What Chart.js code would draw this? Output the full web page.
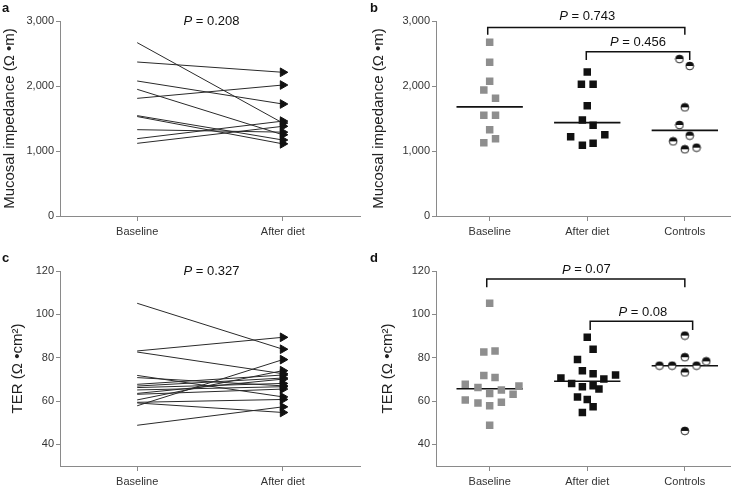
<!DOCTYPE html>
<html>
<head>
<meta charset="utf-8">
<script src="https://cdn.jsdelivr.net/npm/chart.js@4.4.1/dist/chart.umd.min.js"></script>
<style>
  body { margin: 0; background: #fff; width: 736px; height: 488px; position: relative; overflow: hidden;
         font-family: "Liberation Sans", Arial, sans-serif; }
  .panel { position: absolute; width: 368px; height: 244px; }
  .lab { position: absolute; font-weight: bold; font-size: 13px; line-height: 13px; color: #111; }
</style>
</head>
<body>
<div class="panel" style="left:0;top:0"><canvas id="chartA" width="368" height="244"></canvas></div>
<div class="panel" style="left:368px;top:0"><canvas id="chartB" width="368" height="244"></canvas></div>
<div class="panel" style="left:0;top:244px"><canvas id="chartC" width="368" height="244"></canvas></div>
<div class="panel" style="left:368px;top:244px"><canvas id="chartD" width="368" height="244"></canvas></div>
<div class="lab" style="left:2px;top:1px">a</div>
<div class="lab" style="left:370px;top:1px">b</div>
<div class="lab" style="left:2px;top:251px">c</div>
<div class="lab" style="left:370px;top:251px">d</div>

<script>
// categories and ticks
const pairedGroups = ['Baseline', 'After diet'];
const allGroups = ['Baseline', 'After diet', 'Controls'];
const impedanceTicks = [0, 1000, 2000, 3000];
const terTicks = [40, 60, 80, 100, 120];

// a: mucosal impedance, each patient before -> after diet
const impBefore = [2667, 2369, 2077, 1949, 1810, 1544, 1530, 1328, 1190, 1118];
const impAfterPaired = [1430, 2211, 1723, 1250, 2015, 1169, 1110, 1290, 1460, 1380];

// b: mucosal impedance per group
const impBaseline = [2672, 2364, 2072, 1938, 1810, 1549, 1549, 1328, 1190, 1128];
const impAfter = [2215, 2026, 2026, 1697, 1477, 1395, 1251, 1221, 1087, 1118];
const impControls = [2415, 2308, 1672, 1400, 1236, 1149, 1026, 1051];
// horizontal spread of the dots (category units)
const impBaselineSpread = [0, 0, 0, -0.06, 0.06, -0.06, 0.06, 0, 0.06, -0.06];
const impAfterSpread = [0, -0.06, 0.06, 0, -0.05, 0.06, 0.18, -0.17, -0.05, 0.06];
const impControlsSpread = [-0.055, 0.05, 0, -0.055, 0.05, -0.12, 0, 0.12];

// c: TER, each patient before -> after diet
const terBefore = [105.1, 83.1, 82.6, 71.8, 70.8, 67.7, 66.9, 66.2, 65.1, 63.5, 63.1, 60.5, 59.4, 59.1, 57.8, 48.8];
const terAfterPaired = [83.9, 89.4, 72.6, 61.9, 67, 72, 70.6, 68.1, 66.6, 70.1, 65.5, 74, 60.7, 54.7, 79.1, 57.3];

// d: TER per group
const terBaseline = [105.1, 82.6, 83.1, 71.8, 70.8, 67.7, 66.2, 63.5, 65.1, 66.9, 63.1, 60.5, 59.1, 59.4, 57.8, 48.8];
const terAfter = [89.4, 83.9, 79.1, 74, 72.6, 72, 70.6, 70.1, 68.1, 66.6, 67, 65.5, 61.9, 60.7, 57.3, 54.7];
const terControls = [90.2, 80.2, 76.3, 76.3, 76.3, 78.3, 73.2, 46.2];
const terBaselineSpread = [0, -0.06, 0.055, -0.06, 0.055, -0.25, -0.12, 0, 0.12, 0.3, 0.24, -0.25, -0.12, 0.12, 0, 0];
const terAfterSpread = [0, 0.06, -0.1, -0.05, 0.06, 0.29, -0.27, 0.17, -0.16, -0.05, 0.06, 0.12, -0.1, 0, 0.06, -0.05];
const terControlsSpread = [0, 0, -0.26, -0.13, 0.12, 0.22, 0, 0];

const FONT = '"Liberation Sans", Arial, sans-serif';
Chart.defaults.font.family = FONT;
Chart.defaults.color = '#333';

function median(arr) {
  const s = arr.slice().sort((p, q) => p - q);
  const m = Math.floor(s.length / 2);
  return s.length % 2 ? s[m] : (s[m - 1] + s[m]) / 2;
}

// half filled circle used for the control group
function halfDot() {
  const c = document.createElement('canvas');
  c.width = 10; c.height = 10;
  const g = c.getContext('2d');
  g.beginPath(); g.arc(5, 5, 3.9, 0, Math.PI * 2); g.fillStyle = '#fff'; g.fill();
  g.beginPath(); g.arc(5, 5, 3.9, Math.PI, Math.PI * 2); g.closePath(); g.fillStyle = '#111'; g.fill();
  g.beginPath(); g.arc(5, 5, 3.9, 0, Math.PI * 2); g.strokeStyle = '#111'; g.lineWidth = 0.9; g.stroke();
  return c;
}

function drawP(ctx, cx, cy, value) {
  const it = 'italic 13px ' + FONT, rg = '13px ' + FONT;
  const rest = ' = ' + value;
  ctx.font = it; const w1 = ctx.measureText('P').width;
  ctx.font = rg; const w2 = ctx.measureText(rest).width;
  const sx = cx - (w1 + w2) / 2;
  ctx.fillStyle = '#111'; ctx.textBaseline = 'middle'; ctx.textAlign = 'left';
  ctx.font = it; ctx.fillText('P', sx, cy);
  ctx.font = rg; ctx.fillText(rest, sx + w1, cy);
}

const notes = {
  id: 'notes',
  afterDraw(chart, args, opts) {
    const {ctx, scales: {x, y}} = chart;
    ctx.save();
    ctx.strokeStyle = '#111';
    ctx.lineWidth = 1.5;
    (opts.brackets || []).forEach(b => {
      const x1 = x.getPixelForValue(b.from), x2 = x.getPixelForValue(b.to);
      const y1 = y.getPixelForValue(b.top), y2 = y.getPixelForValue(b.end);
      ctx.beginPath();
      ctx.moveTo(x1, y2); ctx.lineTo(x1, y1); ctx.lineTo(x2, y1); ctx.lineTo(x2, y2);
      ctx.stroke();
    });
    (opts.labels || []).forEach(l => drawP(ctx, x.getPixelForValue(l.x), y.getPixelForValue(l.y), l.p));
    ctx.restore();
  }
};

function makeChart(id, cfg) {
  const axisColor = '#8a8a8a';
  return new Chart(document.getElementById(id), {
    type: 'scatter',
    data: {datasets: cfg.datasets},
    plugins: [notes],
    options: {
      responsive: false,
      animation: false,
      events: [],
      devicePixelRatio: 1,
      layout: {padding: {top: cfg.top, right: cfg.right, left: 0, bottom: 0}},
      plugins: {legend: {display: false}, tooltip: {enabled: false}, notes: cfg.notes},
      scales: {
        x: {
          type: 'linear', min: cfg.xmin, max: cfg.xmax,
          afterBuildTicks: s => { s.ticks = cfg.groups.map((g, i) => ({value: i + 1})); },
          afterFit: s => { s.height = cfg.xHeight; },
          ticks: {autoSkip: false, maxRotation: 0, padding: 4, font: {size: 11}, color: '#333',
                  callback: v => cfg.groups[v - 1]},
          grid: {drawOnChartArea: false, tickLength: 5, color: axisColor},
          border: {color: axisColor, width: 1}
        },
        y: {
          min: cfg.ymin, max: cfg.ymax,
          afterBuildTicks: s => { s.ticks = cfg.yticks.map(v => ({value: v})); },
          afterFit: s => { s.width = cfg.yWidth; },
          ticks: {padding: 2, font: {size: 11}, color: '#333', callback: v => v.toLocaleString('en-US')},
          grid: {drawOnChartArea: false, tickLength: 4, color: axisColor},
          border: {color: axisColor, width: 1},
          title: {display: true, text: cfg.ytitle, font: {size: 15}, color: '#222', padding: {top: cfg.titlePad, bottom: 0}}
        }
      }
    }
  });
}

function pairedSets(before, after) {
  return before.map((b, i) => ({
    type: 'line',
    data: [{x: 1, y: b}, {x: 2, y: after[i]}],
    borderColor: '#2a2a2a', borderWidth: 1,
    pointRadius: [0, 5], pointStyle: 'triangle', pointRotation: 90,
    pointBackgroundColor: '#111', pointBorderColor: '#111', pointBorderWidth: 1
  }));
}

function groupSets(groups) {
  const sets = [];
  groups.forEach((g, i) => {
    sets.push({
      data: g.values.map((v, k) => ({x: i + 1 + g.spread[k], y: v})),
      pointStyle: g.style, pointRadius: g.radius,
      backgroundColor: g.color, borderColor: g.color, borderWidth: 0
    });
  });
  groups.forEach((g, i) => {
    const m = median(g.values);
    sets.push({
      type: 'line', data: [{x: i + 1 - 0.34, y: m}, {x: i + 1 + 0.34, y: m}],
      borderColor: '#111', borderWidth: 1.6, pointRadius: 0
    });
  });
  return sets;
}

const dot = halfDot();

makeChart('chartA', {
  datasets: pairedSets(impBefore, impAfterPaired),
  groups: pairedGroups, xmin: 0.47, xmax: 2.53, ymin: 0, ymax: 3000, yticks: impedanceTicks,
  top: 21, right: 8, xHeight: 28, yWidth: 60, titlePad: 1,
  ytitle: 'Mucosal impedance (\u03A9 \u2022m)',
  notes: {labels: [{x: 1.51, y: 3000, p: '0.208'}]}
});

makeChart('chartB', {
  datasets: groupSets([
    {values: impBaseline, spread: impBaselineSpread, style: 'rect', radius: 5.3, color: '#8e8e8e'},
    {values: impAfter, spread: impAfterSpread, style: 'rect', radius: 5.3, color: '#111'},
    {values: impControls, spread: impControlsSpread, style: dot, radius: 4, color: '#111'}
  ]),
  groups: allGroups, xmin: 0.45, xmax: 3.47, ymin: 0, ymax: 3000, yticks: impedanceTicks,
  top: 21, right: 5, xHeight: 28, yWidth: 68, titlePad: 2,
  ytitle: 'Mucosal impedance (\u03A9 \u2022m)',
  notes: {
    brackets: [{from: 0.98, to: 3.0, top: 2900, end: 2790}, {from: 1.99, to: 3.05, top: 2528, end: 2400}],
    labels: [{x: 2.0, y: 3066, p: '0.743'}, {x: 2.52, y: 2667, p: '0.456'}]
  }
});

makeChart('chartC', {
  datasets: pairedSets(terBefore, terAfterPaired),
  groups: pairedGroups, xmin: 0.47, xmax: 2.53, ymin: 30, ymax: 120, yticks: terTicks,
  top: 27, right: 8, xHeight: 22, yWidth: 60, titlePad: 9,
  ytitle: 'TER (\u03A9 \u2022cm\u00B2)',
  notes: {labels: [{x: 1.51, y: 120, p: '0.327'}]}
});

makeChart('chartD', {
  datasets: groupSets([
    {values: terBaseline, spread: terBaselineSpread, style: 'rect', radius: 5.3, color: '#8e8e8e'},
    {values: terAfter, spread: terAfterSpread, style: 'rect', radius: 5.3, color: '#111'},
    {values: terControls, spread: terControlsSpread, style: dot, radius: 4, color: '#111'}
  ]),
  groups: allGroups, xmin: 0.45, xmax: 3.47, ymin: 30, ymax: 120, yticks: terTicks,
  top: 27, right: 5, xHeight: 22, yWidth: 68, titlePad: 11,
  ytitle: 'TER (\u03A9 \u2022cm\u00B2)',
  notes: {
    brackets: [{from: 0.97, to: 3.0, top: 116.3, end: 112.5}, {from: 2.03, to: 3.08, top: 96.8, end: 92.8}],
    labels: [{x: 1.99, y: 120.5, p: '0.07'}, {x: 2.57, y: 101, p: '0.08'}]
  }
});
</script>
</body>
</html>
